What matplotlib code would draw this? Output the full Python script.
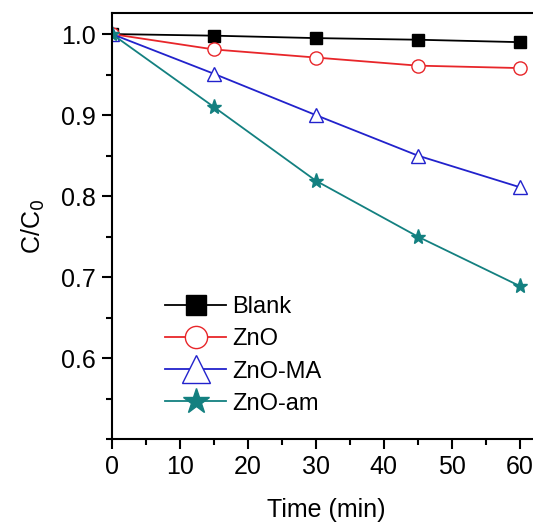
import matplotlib
matplotlib.use("Agg")
import matplotlib.pyplot as plt
from matplotlib.ticker import MultipleLocator

time = [0, 15, 30, 45, 60]
blank = [1.0, 0.998, 0.995, 0.993, 0.990]
zno = [1.0, 0.981, 0.971, 0.961, 0.958]
zno_ma = [1.0, 0.951, 0.900, 0.850, 0.811]
zno_am = [1.0, 0.910, 0.819, 0.750, 0.689]
labels = ["Blank", "ZnO", "ZnO-MA", "ZnO-am"]

plt.rcParams['font.family'] = ['Liberation Sans', 'DejaVu Sans']
fig = plt.figure(figsize=(5.33, 5.26), dpi=100)
ax = fig.add_axes([0.210, 0.1654, 0.803, 0.8099])

ax.plot(time, blank, color='black', marker='s', ms=8, lw=1.3, mfc='black', label=labels[0])
ax.plot(time, zno, color='#e8262a', marker='o', ms=9.5, lw=1.3, mfc='white', label=labels[1])
ax.plot(time, zno_ma, color='#2222cc', marker='^', ms=10, lw=1.3, mfc='white', label=labels[2])
ax.plot(time, zno_am, color='#138080', marker='*', ms=11, lw=1.3, label=labels[3])

ax.set_xlim(0, 63)
ax.set_ylim(0.5, 1.026)
ax.xaxis.set_major_locator(MultipleLocator(10))
ax.xaxis.set_minor_locator(MultipleLocator(5))
ax.set_yticks([0.6, 0.7, 0.8, 0.9, 1.0])
ax.yaxis.set_minor_locator(MultipleLocator(0.05))
ax.tick_params(which='major', length=7.5, width=1.5, direction='out', labelsize=18, pad=4)
ax.tick_params(which='minor', length=4, width=1.5, direction='out')
for s in ax.spines.values():
    s.set_linewidth(1.5)

ax.set_xlabel("Time (min)", fontsize=18, labelpad=14)
ax.set_ylabel("C/C$_0$", fontsize=18, labelpad=10)

leg = ax.legend(loc='upper left', bbox_to_anchor=(0.124, 0.335), frameon=False, fontsize=17,
                handlelength=2.6, labelspacing=0.43, handletextpad=0.25,
                borderpad=0, borderaxespad=0)
for h, s in zip(leg.legend_handles, [15, 16, 20, 19]):
    h.set_markersize(s)

fig.savefig("out.png", dpi=100)
